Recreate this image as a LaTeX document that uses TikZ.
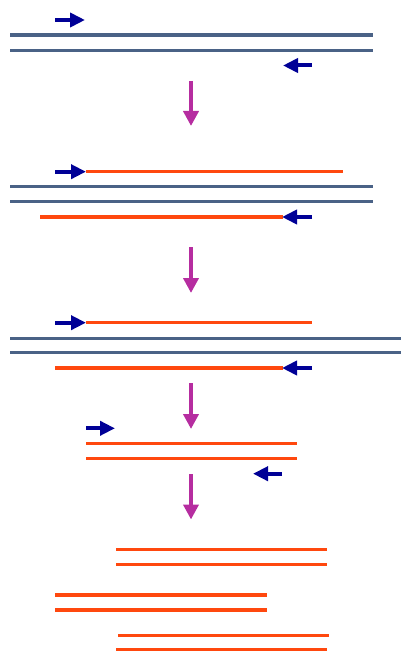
\documentclass[tikz,border=0pt]{standalone}
\usetikzlibrary{arrows.meta}
\definecolor{dnagrey}{RGB}{74,98,134}
\definecolor{newdna}{RGB}{255,72,14}
\definecolor{primer}{RGB}{0,0,150}
\definecolor{stepc}{RGB}{182,45,160}
\tikzset{
  template/.style={dnagrey, line width=3.2pt},
  product/.style={newdna, line width=3.2pt},
  primerarrow/.style={primer, line width=4pt, -{Triangle[length=15pt,width=14pt]}},
  stagearrow/.style={stepc, line width=4pt, -{Triangle[length=15pt,width=15pt]}},
}
\begin{document}
\begin{tikzpicture}[x=1pt,y=-1pt]
\useasboundingbox (0,0) rectangle (401,655);
% stage 1
\draw[template] (10,35) -- (373,35);
\draw[template] (10,50.5) -- (373,50.5);
\draw[primerarrow] (55,20) -- (85,20);
\draw[primerarrow] (312,65.5) -- (283,65.5);
\draw[stagearrow] (191,81) -- (191,126);
% stage 2
\draw[product] (86,171.7) -- (343,171.7);
\draw[primerarrow] (55,171.7) -- (86,171.7);
\draw[template] (10,186.7) -- (373,186.7);
\draw[template] (10,201.7) -- (373,201.7);
\draw[product] (40,217) -- (283,217);
\draw[primerarrow] (312,217) -- (282,217);
\draw[stagearrow] (191,247) -- (191,293);
% stage 3
\draw[product] (86,322.7) -- (312,322.7);
\draw[primerarrow] (55,322.7) -- (86,322.7);
\draw[template] (10,338.3) -- (401,338.3);
\draw[template] (10,352.7) -- (401,352.7);
\draw[product] (55,368) -- (283,368);
\draw[primerarrow] (312,368) -- (282,368);
\draw[stagearrow] (191,383) -- (191,429);
% stage 4
\draw[primerarrow] (86,428.3) -- (115,428.3);
\draw[product] (86,443.7) -- (297,443.7);
\draw[product] (86,458.7) -- (297,458.7);
\draw[primerarrow] (282,473.7) -- (253,473.7);
\draw[stagearrow] (191,474) -- (191,519.5);
% stage 5
\draw[product] (116,549.7) -- (327,549.7);
\draw[product] (116,564.7) -- (327,564.7);
\draw[product] (55,595) -- (267,595);
\draw[product] (55,610) -- (267,610);
\draw[product] (118,635.7) -- (329,635.7);
\draw[product] (116,649.7) -- (327,649.7);
\end{tikzpicture}
\end{document}
